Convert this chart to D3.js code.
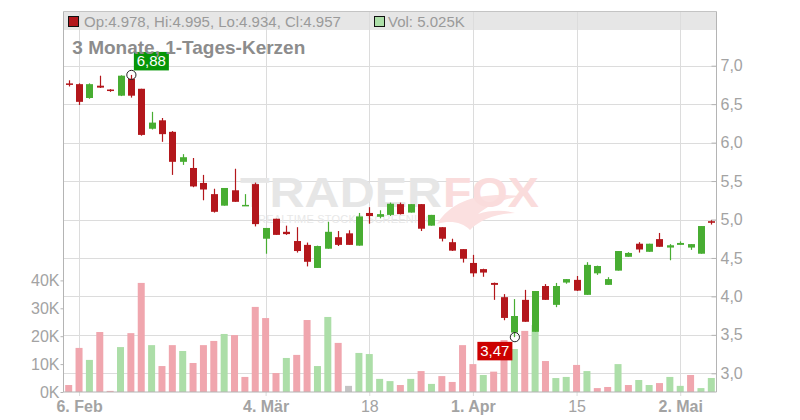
<!DOCTYPE html>
<html><head><meta charset="utf-8">
<script src="https://cdn.jsdelivr.net/npm/d3@7"></script>
<style>body{margin:0;background:#fff} svg{display:block;font-family:"Liberation Sans",Arial,sans-serif}</style>
</head><body><svg id="c" width="800" height="420"></svg>
<script>
const dates = ["2025-02-05","2025-02-06","2025-02-07","2025-02-10","2025-02-11","2025-02-12","2025-02-13","2025-02-14",
"2025-02-17","2025-02-18","2025-02-19","2025-02-20","2025-02-21","2025-02-24","2025-02-25","2025-02-26","2025-02-27","2025-02-28",
"2025-03-03","2025-03-04","2025-03-05","2025-03-06","2025-03-07","2025-03-10","2025-03-11","2025-03-12","2025-03-13","2025-03-14",
"2025-03-17","2025-03-18","2025-03-19","2025-03-20","2025-03-21","2025-03-24","2025-03-25","2025-03-26","2025-03-27","2025-03-28",
"2025-03-31","2025-04-01","2025-04-02","2025-04-03","2025-04-04","2025-04-07","2025-04-08","2025-04-09","2025-04-10","2025-04-11",
"2025-04-14","2025-04-15","2025-04-16","2025-04-17","2025-04-22","2025-04-23","2025-04-24","2025-04-25","2025-04-28","2025-04-29",
"2025-04-30","2025-05-02","2025-05-05","2025-05-06","2025-05-07"];
const open  = [6.77,6.76,6.58,6.74,6.69,6.61,6.83,6.70,6.18,6.29,6.14,5.75,5.67,5.475,5.33,5.18,5.38,5.185,5.46,4.75,
5.01,4.84,4.72,4.67,4.37,4.62,4.77,4.82,4.66,5.085,5.035,5.06,5.20,5.09,5.20,4.92,4.90,4.705,4.615,4.435,
4.355,4.175,3.99,3.53,3.955,3.54,4.135,3.89,4.18,4.215,4.02,4.30,4.15,4.335,4.515,4.685,4.58,4.745,4.635,4.67,
4.635,4.555,4.978];
const high  = [6.81,6.77,6.77,6.87,6.695,6.875,6.88,6.70,6.40,6.32,6.15,5.85,5.80,5.58,5.40,5.41,5.66,5.33,5.48,4.89,
5.01,4.92,4.90,4.70,4.66,4.97,4.85,4.86,5.085,5.16,5.12,5.22,5.22,5.20,5.20,5.06,4.90,4.75,4.615,4.54,
4.36,4.18,4.03,3.965,4.085,4.07,4.16,4.175,4.225,4.265,4.445,4.40,4.25,4.59,4.575,4.705,4.685,4.825,4.68,4.715,
4.68,4.915,4.995];
const low   = [6.73,6.49,6.57,6.71,6.66,6.605,6.585,6.09,6.17,6.01,5.58,5.71,5.42,5.25,5.09,5.18,5.23,5.185,4.91,4.555,
4.80,4.80,4.57,4.39,4.37,4.62,4.655,4.67,4.66,4.945,5.015,5.045,5.065,5.09,4.85,4.92,4.715,4.59,4.44,4.255,
4.255,3.955,3.69,3.47,3.67,3.54,3.955,3.86,4.165,4.07,4.02,4.28,4.15,4.335,4.515,4.57,4.58,4.645,4.47,4.67,
4.605,4.555,4.934];
const close = [6.75,6.53,6.76,6.715,6.675,6.87,6.61,6.10,6.26,6.11,5.75,5.81,5.43,5.39,5.10,5.41,5.23,5.19,4.94,4.89,
4.80,4.81,4.59,4.45,4.655,4.84,4.67,4.67,5.04,5.045,5.07,5.205,5.07,5.20,4.88,5.06,4.75,4.595,4.49,4.30,
4.31,4.15,3.72,3.745,3.67,4.07,3.955,4.135,4.225,4.075,4.41,4.395,4.225,4.59,4.565,4.61,4.685,4.645,4.665,4.695,
4.68,4.915,4.957];
const volume = [2500,15800,11500,21500,400,16100,21100,39100,16800,9300,16800,14700,10400,16800,18300,20800,20400,5400,30500,26500,
6800,12200,13300,25800,9300,26900,17600,2200,14000,13600,4700,3900,2500,4700,7500,2900,5700,3600,16800,10000,
6100,7300,18600,15400,21900,24000,11100,5000,5400,9700,7500,1400,1800,10000,2500,4300,2500,3200,5400,2200,
6100,1400,5025];
const prevClose = 6.80;
const priceTicks = [3.0,3.5,4.0,4.5,5.0,5.5,6.0,6.5,7.0];
const volTicks = [0,10000,20000,30000,40000];
const xTickDates = ["2025-02-06","2025-03-04","2025-03-18","2025-04-01","2025-04-15","2025-05-02"];
const xTickLabels = ["6. Feb","4. Mär","18","1. Apr","15","2. Mai"];
const xTickBold = [true,true,false,true,false,true];
const titleText = "3 Monate, 1-Tages-Kerzen";

const svg = d3.select("#c");
const L = 63.5, R = 716.5, T = 11.5, B = 392, HB = 30;
const x = d3.scalePoint().domain(dates).range([L, R]).padding(0.5);
const y = d3.scaleLinear().domain([3, 7]).range([373.3, 65.7]);
const yv = d3.scaleLinear().domain([0, 40000]).range([B, 280.4]);
const bw = 7;
const RED = "#b3171c", GREEN = "#48ad32", VRED = "#f0a6ae", VGREEN = "#acdea8", VGRAY = "#c3c3c3";
const comma = v => d3.format(".2f")(v).replace(".", ",");
const data = dates.map((d, i) => ({d, o: open[i], h: high[i], l: low[i], c: close[i], v: volume[i],
  pc: i === 0 ? prevClose : close[i - 1]}));

// header band
svg.append("rect").attr("x", L).attr("y", T).attr("width", R - L).attr("height", HB - T).attr("fill", "#e6e6e6");

// grids
svg.append("g").selectAll("line").data(priceTicks).join("line")
  .attr("x1", L).attr("x2", R)
  .attr("y1", d => Math.round(y(d)) + 0.5).attr("y2", d => Math.round(y(d)) + 0.5)
  .attr("stroke", "#dcdcdc");
svg.append("g").selectAll("line").data(xTickDates).join("line")
  .attr("x1", d => Math.round(x(d)) + 0.5).attr("x2", d => Math.round(x(d)) + 0.5)
  .attr("y1", T).attr("y2", B)
  .attr("stroke", "#dcdcdc");

// watermark
const wm = svg.append("g");
wm.append("path")
  .attr("d", "M437,224 C452,200 480,192 520,196 C500,200 488,206 478,214 C490,210 505,210 515,213 C495,214 480,220 470,230 C462,222 450,220 437,224 Z")
  .attr("fill", "#fbe0e0");
wm.append("text").attr("x", 240).attr("y", 206.7).attr("font-size", 42).attr("font-weight", "bold")
  .attr("textLength", 202).attr("lengthAdjust", "spacingAndGlyphs").attr("fill", "#e6e6e6").text("TRADER");
wm.append("text").attr("x", 443).attr("y", 206.7).attr("font-size", 42).attr("font-weight", "bold")
  .attr("textLength", 96).attr("lengthAdjust", "spacingAndGlyphs").attr("fill", "#fadcdc").text("FOX");
wm.append("text").attr("x", 258).attr("y", 223).attr("font-size", 11)
  .attr("textLength", 176).attr("lengthAdjust", "spacing").attr("fill", "#e8e8e8").text("REALTIME STOCKS SCREENING");

// volume bars
svg.append("g").selectAll("rect").data(data).join("rect")
  .attr("x", d => x(d.d) - bw / 2).attr("width", bw)
  .attr("y", d => yv(d.v)).attr("height", d => B - yv(d.v))
  .attr("fill", d => d.c > d.pc ? VGREEN : d.c < d.pc ? VRED : VGRAY);

// candles
const cg = svg.append("g");
cg.selectAll("line").data(data).join("line")
  .attr("x1", d => Math.round(x(d.d)) + 0.5).attr("x2", d => Math.round(x(d.d)) + 0.5)
  .attr("y1", d => y(d.h)).attr("y2", d => y(d.l))
  .attr("stroke", d => d.c < d.o ? RED : GREEN).attr("stroke-width", 1.2);
cg.selectAll("rect").data(data).join("rect")
  .attr("x", d => Math.round(x(d.d)) + 0.5 - bw / 2).attr("width", bw)
  .attr("y", d => y(Math.max(d.o, d.c)))
  .attr("height", d => Math.max(1.5, Math.abs(y(d.o) - y(d.c))))
  .attr("fill", d => d.c < d.o ? RED : GREEN);

// axes
const axR = svg.append("g").attr("transform", `translate(${R},0)`)
  .call(d3.axisRight(y).tickValues(priceTicks).tickSize(-5).tickPadding(4).tickFormat(d => d3.format(".1f")(d).replace(".", ",")));
const axL = svg.append("g").attr("transform", `translate(${L},0)`)
  .call(d3.axisLeft(yv).tickValues(volTicks).tickSize(3).tickPadding(1).tickFormat(d => (d / 1000) + "K"));
const axB = svg.append("g").attr("transform", `translate(0,${B})`)
  .call(d3.axisBottom(x).tickValues(xTickDates).tickSize(4).tickPadding(4.3).tickFormat((d, i) => xTickLabels[i]));
[axR, axL, axB].forEach(a => {
  a.select(".domain").remove();
  a.selectAll(".tick line").attr("stroke", "#b4b4b4");
  a.selectAll(".tick text").attr("fill", "#a3a3a3").attr("font-size", 16)
    .attr("font-family", "Liberation Sans, Arial, sans-serif");
});
axB.selectAll(".tick line").attr("stroke", "#dcdcdc");
axB.selectAll(".tick text").attr("font-weight", (d, i) => xTickBold[i] ? "bold" : "normal");

// frame lines
const frame = svg.append("g").attr("stroke", "#b4b4b4").attr("fill", "none");
frame.append("line").attr("x1", L).attr("x2", R).attr("y1", T).attr("y2", T).attr("stroke", "#c4c4c4");
frame.append("line").attr("x1", L).attr("x2", L).attr("y1", T).attr("y2", B);
frame.append("line").attr("x1", R).attr("x2", R).attr("y1", T).attr("y2", B);
frame.append("line").attr("x1", L).attr("x2", R).attr("y1", B).attr("y2", B);

// max / min markers
const maxD = data.reduce((a, b) => b.h > a.h ? b : a);
const minD = data.reduce((a, b) => b.l < a.l ? b : a);
const mk = svg.append("g");
[maxD, minD].forEach((d, k) => {
  const cx = x(d.d) + 0.5, cy = k === 0 ? y(d.h) : y(d.l);
  mk.append("circle").attr("cx", cx).attr("cy", cy).attr("r", 4.6)
    .attr("fill", "none").attr("stroke", "#222").attr("stroke-width", 1);
  const bx = k === 0 ? cx + 2.5 : cx - 2.5 - 35, by = k === 0 ? cy - 5 - 18 : cy + 4.7;
  mk.append("rect").attr("x", bx).attr("y", by).attr("width", 35).attr("height", 18.5)
    .attr("fill", k === 0 ? "#079607" : "#cc0000");
  mk.append("text").attr("x", bx + 17.5).attr("y", by + 14.5).attr("text-anchor", "middle")
    .attr("font-size", 15).attr("fill", "#fff").text(comma(k === 0 ? d.h : d.l));
});

// header text
const last = data[data.length - 1];
const f3 = d3.format(".3f");
svg.append("rect").attr("x", 68.5).attr("y", 16.5).attr("width", 10).attr("height", 10)
  .attr("fill", last.c < last.o ? RED : GREEN).attr("stroke", "#111");
svg.append("text").attr("x", 84).attr("y", 26.5).attr("font-size", 15).attr("fill", "#9a9a9a")
  .text(`Op:${f3(last.o)}, Hi:${f3(last.h)}, Lo:${f3(last.l)}, Cl:${f3(last.c)}`);
svg.append("rect").attr("x", 374.5).attr("y", 16.5).attr("width", 10).attr("height", 10)
  .attr("fill", last.c > last.pc ? VGREEN : VRED).attr("stroke", "#111");
svg.append("text").attr("x", 388).attr("y", 26.5).attr("font-size", 15).attr("fill", "#9a9a9a")
  .text(`Vol: ${f3(last.v / 1000)}K`);

// title
svg.append("text").attr("x", 72.3).attr("y", 54).attr("font-size", 19).attr("font-weight", "bold")
  .attr("fill", "#8c8c8c").text(titleText);
</script></body></html>
